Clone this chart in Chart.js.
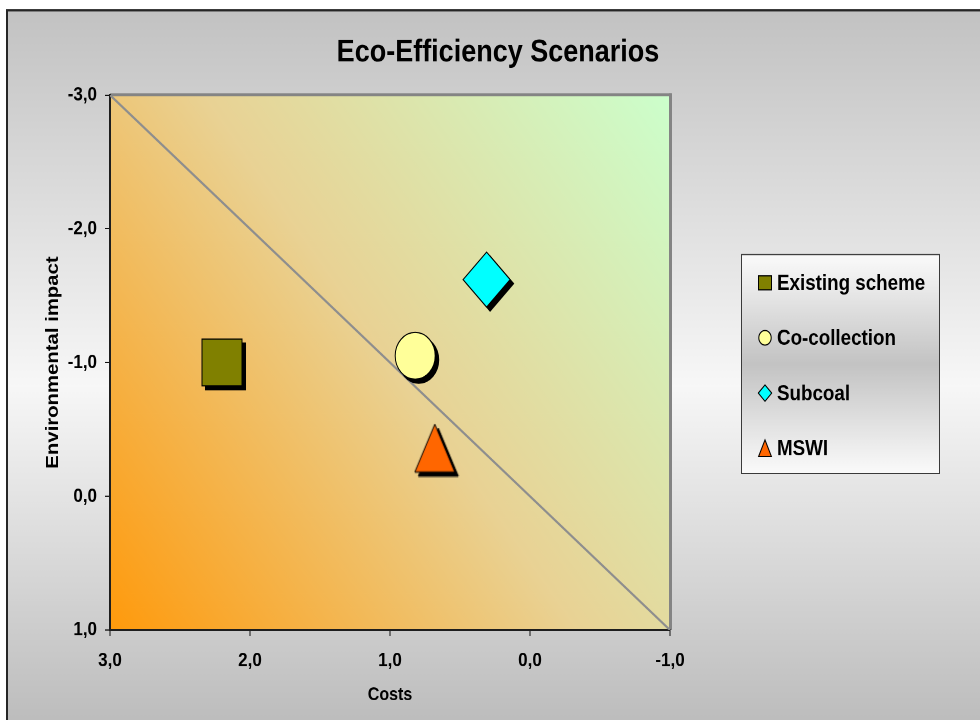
<!DOCTYPE html>
<html>
<head>
<meta charset="utf-8">
<script src="https://cdn.jsdelivr.net/npm/chart.js@4.4.1/dist/chart.umd.min.js"></script>
<style>
  html, body { margin: 0; padding: 0; background: #fff; }
  body { width: 980px; height: 720px; overflow: hidden; }
  /* the chart is laid out on a 980x616 canvas and shown 720px tall */
  #frame { width: 980px; height: 616px; transform: scaleY(1.168831); transform-origin: 0 0; }
  canvas { display: block; }
</style>
</head>
<body>
<div id="frame"><canvas id="chart" width="980" height="616" style="width:980px;height:616px"></canvas></div>
<script>
// Scenario positions: costs (x) against environmental impact (y)
const scenarioNames = ['Existing scheme', 'Co-collection', 'Subcoal', 'MSWI'];
const costValues    = [2.2, 0.82, 0.31, 0.68];
const impactValues  = [-1.0, -1.05, -1.62, -0.36];

// Break-even diagonal from corner to corner
const diagonalCosts   = [3, -1];
const diagonalImpacts = [-3, 1];

// Axis tick values
const costTicks   = [3, 2, 1, 0, -1];
const impactTicks = [-3, -2, -1, 0, 1];

const FONT = "'Liberation Sans', Arial, Helvetica, sans-serif";
const fmt = v => Number(v).toFixed(1).replace('.', ',');

// Tall triangle marker (built-in triangle is equilateral)
function triangleMarker(w, h, fill, stroke) {
  const c = document.createElement('canvas');
  c.width = w + 2; c.height = h + 2;
  const g = c.getContext('2d');
  g.beginPath();
  g.moveTo(c.width / 2, 1);
  g.lineTo(c.width - 1, c.height - 1);
  g.lineTo(1, c.height - 1);
  g.closePath();
  g.fillStyle = fill; g.fill();
  g.lineWidth = 1; g.strokeStyle = stroke; g.stroke();
  return c;
}

const markerFills   = ['#808000', '#ffff99', '#00ffff', '#ff6600'];
const markerStyles  = ['rect', 'circle', 'rectRot', triangleMarker(40, 41, '#ff6600', '#000')];
const shadowStyles  = ['rect', 'circle', 'rectRot', triangleMarker(40, 41, '#000', '#000')];
const markerRadii   = [28.3, 20, 23.5, 21];

// Grey backdrop, framed plot area with diagonal colour wash
const backdrop = {
  id: 'backdrop',
  beforeDraw(chart) {
    const { ctx, width, height, chartArea: a } = chart;
    ctx.save();
    ctx.fillStyle = '#fff';
    ctx.fillRect(0, 0, width, height);
    const g = ctx.createLinearGradient(0, 8, 0, height);
    g.addColorStop(0, '#c2c2c2');
    g.addColorStop(0.53, '#f7f7f7');
    g.addColorStop(1, '#bdbdbd');
    ctx.fillStyle = g;
    ctx.fillRect(6, 7.7, width, height);
    ctx.strokeStyle = '#262626';
    ctx.lineWidth = 2;
    ctx.beginPath();
    ctx.moveTo(7, height + 5);
    ctx.lineTo(7, 8.7);
    ctx.lineTo(width + 5, 8.7);
    ctx.stroke();

    const pg = ctx.createLinearGradient(a.left, a.bottom, a.right, a.top);
    pg.addColorStop(0, '#ff9a0c');
    pg.addColorStop(0.5, '#e9d294');
    pg.addColorStop(1, '#ccffcc');
    ctx.fillStyle = pg;
    ctx.fillRect(a.left, a.top, a.right - a.left, a.bottom - a.top);

    ctx.strokeStyle = '#848484';
    ctx.lineWidth = 2.6;
    ctx.beginPath();
    ctx.moveTo(a.left, a.top - 0.3);
    ctx.lineTo(a.right + 1.5, a.top - 0.3);
    ctx.stroke();
    ctx.lineWidth = 3;
    ctx.beginPath();
    ctx.moveTo(a.right + 0.5, a.top - 1.6);
    ctx.lineTo(a.right + 0.5, a.bottom);
    ctx.stroke();
    ctx.restore();
  }
};

// Solid black drop shadow painted under each scenario marker
const markerShadow = {
  id: 'markerShadow',
  beforeDatasetDraw(chart, args) {
    const ds = chart.data.datasets[args.index];
    if (!ds.shadowStyle || !Chart.helpers || !Chart.helpers.drawPoint) return;
    const ctx = chart.ctx;
    ctx.save();
    ctx.translate(3.5, 3.4);
    ctx.fillStyle = '#000';
    ctx.strokeStyle = '#000';
    ctx.lineWidth = 1;
    args.meta.data.forEach(el => {
      Chart.helpers.drawPoint(ctx, {
        pointStyle: ds.shadowStyle,
        radius: ds.pointRadius,
        rotation: 0,
        borderWidth: 1
      }, el.x, el.y);
    });
    ctx.restore();
  }
};

// Boxed legend to the right of the plot
const boxedLegend = {
  id: 'boxedLegend',
  afterDraw(chart) {
    const ctx = chart.ctx;
    const bx = 741, by = 217.3, bw = 199, bh = 188.2;
    ctx.save();
    const g = ctx.createLinearGradient(0, by, 0, by + bh);
    g.addColorStop(0, '#fbfbfb');
    g.addColorStop(0.5, '#c3c3c3');
    g.addColorStop(1, '#fbfbfb');
    ctx.fillStyle = g;
    ctx.fillRect(bx, by, bw, bh);
    ctx.strokeStyle = '#3a3a3a';
    ctx.lineWidth = 1;
    ctx.strokeRect(bx + 0.5, by + 0.5, bw - 1, bh - 1);

    const baselines = [248, 295, 342.3, 389.5];
    const mx = 765;
    ctx.lineWidth = 1;
    ctx.strokeStyle = '#000';
    scenarioNames.forEach((name, i) => {
      const cy = baselines[i] - 6;
      ctx.beginPath();
      if (i === 0) {
        ctx.rect(mx - 6.5, cy - 6, 13, 12);
      } else if (i === 1) {
        ctx.arc(mx, cy, 6.2, 0, Math.PI * 2);
      } else if (i === 2) {
        ctx.moveTo(mx, cy - 7);
        ctx.lineTo(mx + 6.7, cy);
        ctx.lineTo(mx, cy + 7);
        ctx.lineTo(mx - 6.7, cy);
        ctx.closePath();
      } else {
        ctx.moveTo(mx, cy - 7.2);
        ctx.lineTo(mx + 6.4, cy + 7);
        ctx.lineTo(mx - 6.4, cy + 7);
        ctx.closePath();
      }
      ctx.fillStyle = markerFills[i];
      ctx.fill();
      ctx.stroke();
      ctx.fillStyle = '#000';
      ctx.font = 'bold 18.8px ' + FONT;
      ctx.textAlign = 'left';
      ctx.textBaseline = 'alphabetic';
      ctx.fillText(name, 777, baselines[i]);
    });
    ctx.restore();
  }
};

const scenarioSets = scenarioNames.map((name, i) => ({
  label: name,
  data: [{ x: costValues[i], y: impactValues[i] }],
  pointStyle: markerStyles[i],
  shadowStyle: shadowStyles[i],
  pointRadius: markerRadii[i],
  backgroundColor: markerFills[i],
  borderColor: '#000',
  borderWidth: 1,
  order: 1
}));

const diagonalSet = {
  type: 'line',
  label: 'Break-even',
  data: diagonalCosts.map((x, i) => ({ x, y: diagonalImpacts[i] })),
  borderColor: '#8e8e8e',
  borderWidth: 2,
  pointRadius: 0,
  fill: false,
  order: 10
};

const tickFont = { family: FONT, size: 17, weight: 'bold' };

new Chart(document.getElementById('chart'), {
  type: 'scatter',
  data: { datasets: [...scenarioSets, diagonalSet] },
  options: {
    responsive: false,
    devicePixelRatio: 2,
    animation: false,
    events: [],
    layout: { padding: { left: 16, right: 0, top: 0, bottom: 0 } },
    plugins: {
      legend: { display: false },
      tooltip: { enabled: false },
      title: {
        display: true,
        text: 'Eco-Efficiency Scenarios',
        color: '#000',
        font: { family: FONT, size: 27, weight: 'bold' },
        padding: { top: 29, bottom: 19.9 }
      }
    },
    scales: {
      x: {
        type: 'linear',
        reverse: true,
        min: -1, max: 3,
        afterBuildTicks: s => { s.ticks = costTicks.map(v => ({ value: v })); },
        afterFit: s => { s.height = 77; },
        ticks: { font: tickFont, color: '#000', padding: 11.3, maxRotation: 0, autoSkip: false, callback: v => fmt(v) },
        grid: { display: true, drawOnChartArea: false, drawTicks: true, tickLength: 5, color: '#111', lineWidth: 1 },
        border: { display: true, color: '#1e1e1e', width: 2 },
        title: { display: true, text: 'Costs', color: '#000', font: { family: FONT, size: 16, weight: 'bold' }, padding: { top: 0, bottom: 12 } }
      },
      y: {
        type: 'linear',
        reverse: true,
        min: -3, max: 1,
        afterBuildTicks: s => { s.ticks = impactTicks.map(v => ({ value: v })); },
        afterFit: s => { s.width = 94; },
        ticks: { font: tickFont, color: '#000', padding: 8, autoSkip: false, callback: v => fmt(v) },
        grid: { display: true, drawOnChartArea: false, drawTicks: true, tickLength: 5, color: '#111', lineWidth: 1 },
        border: { display: true, color: '#1e1e1e', width: 2 },
        title: { display: true, text: 'Environmental impact', color: '#000', font: { family: FONT, size: 17.4, weight: 'bold' }, padding: { top: 27, bottom: 0 } }
      },
      // reserves the strip on the right that holds the legend box
      legendSpace: {
        type: 'linear',
        position: 'right',
        display: true,
        grid: { display: false },
        border: { display: false },
        ticks: { display: false },
        afterFit: s => { s.width = 310; }
      }
    }
  },
  plugins: [backdrop, markerShadow, boxedLegend]
});
</script>
</body>
</html>
